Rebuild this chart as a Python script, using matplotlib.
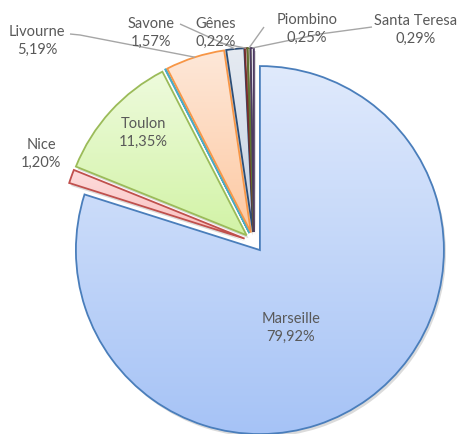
import numpy as np
import matplotlib
matplotlib.use("Agg")
import matplotlib.pyplot as plt
from matplotlib.patches import Wedge
from matplotlib.colors import to_rgb

# ---- data ----
categories = ["Marseille", "Nice", "Toulon", "", "Livourne", "Savone", "Gênes", "Piombino", "Santa Teresa"]
values = [79.92, 1.20, 11.35, 0.05, 5.19, 1.57, 0.22, 0.25, 0.29]
labels_pct = ["79,92%", "1,20%", "11,35%", "", "5,19%", "1,57%", "0,22%", "0,25%", "0,29%"]

# ---- style ----
edge_colors = ["#4A7EBB", "#C0504D", "#9BBB59", "#4BACC6", "#F79646", "#2C4D75", "#772C2A", "#5F7530", "#4D3B62"]
grad_top = ["#E0EAFC", "#FDDCDC", "#EEFBDD", "#DDF1F7", "#FEE8D9", "#E6EBF2", "#EBD9D9", "#E3EBD3", "#E1DCE8"]
grad_bot = ["#A6C3F6", "#F9BDBD", "#D2F3A6", "#B2E1EE", "#FDC9A2", "#C4D0E2", "#D6B0B0", "#C7D6A6", "#C3B8D3"]

W, H = 460, 434
R_PX = 184.0
CX, CY = 254.0, 242.0
EXPL_PX = 10.0

fig = plt.figure(figsize=(W / 100, H / 100), dpi=100)
ax = fig.add_axes([0, 0, 1, 1])

def px(x, y):
    """pixel (from top-left) -> data coords (unit radius pie at origin)."""
    return ((x - CX) / R_PX, (CY - y) / R_PX)

explode = [EXPL_PX / R_PX] * len(values)
wedges, _ = ax.pie(values, explode=explode, startangle=90, counterclock=False,
                   radius=1.0, center=(0, 0), normalize=True,
                   wedgeprops=dict(linewidth=1.3, zorder=3))

xl = (px(0, 0)[0], px(W, 0)[0])
yl = (px(0, H)[1], px(0, 0)[1])

for i, w in enumerate(wedges):
    w.set_edgecolor(edge_colors[i])
    w.set_facecolor("none")
    w.set_zorder(3)
    # shadow
    sh = Wedge((w.center[0] + 2.0 / R_PX, w.center[1] - 3.0 / R_PX), w.r, w.theta1, w.theta2,
               facecolor="#7F7F7F", edgecolor="none", alpha=0.28, zorder=1)
    ax.add_patch(sh)
    # gradient fill
    ext = w.get_path().get_extents()
    c0 = np.array(to_rgb(grad_top[i]))
    c1 = np.array(to_rgb(grad_bot[i]))
    t = np.linspace(0, 1, 256)[:, None]
    img = (c0[None, :] * (1 - t) + c1[None, :] * t)[:, None, :]
    im = ax.imshow(img, extent=(ext.x0, ext.x1, ext.y0, ext.y1), origin="upper",
                   aspect="auto", zorder=2, interpolation="bilinear")
    im.set_clip_path(w)

def anchor(i):
    w = wedges[i]
    a = np.deg2rad(0.5 * (w.theta1 + w.theta2))
    return (w.center[0] + w.r * np.cos(a), w.center[1] + w.r * np.sin(a))

txt_kw = dict(color="#595959", fontsize=10.5, family=["Lato", "DejaVu Sans"],
              ha="center", va="center", linespacing=1.35, zorder=6)

label_pos = {0: (291, 328), 1: (41, 154), 2: (143, 133), 4: (37, 41),
             5: (151, 33), 6: (216, 33), 7: (307, 29), 8: (416, 30)}
for i, (x, y) in label_pos.items():
    ax.text(*px(x, y), f"{categories[i]}\n{labels_pct[i]}", **txt_kw)

line_kw = dict(color="#A6A6A6", linewidth=1.0, zorder=5, solid_capstyle="butt")
leader_start = {4: [(70, 34), (80, 35)], 5: [(180, 24)], 6: [(220, 43)],
                7: [(264, 27)], 8: [(372, 27), (320, 34)]}
for i, pts in leader_start.items():
    xs = [px(*p)[0] for p in pts] + [anchor(i)[0]]
    ys = [px(*p)[1] for p in pts] + [anchor(i)[1]]
    ax.plot(xs, ys, **line_kw)

ax.set_xlim(*xl)
ax.set_ylim(*yl)
ax.set_aspect("auto")
ax.axis("off")
fig.savefig("out.png", dpi=100, facecolor="white")
